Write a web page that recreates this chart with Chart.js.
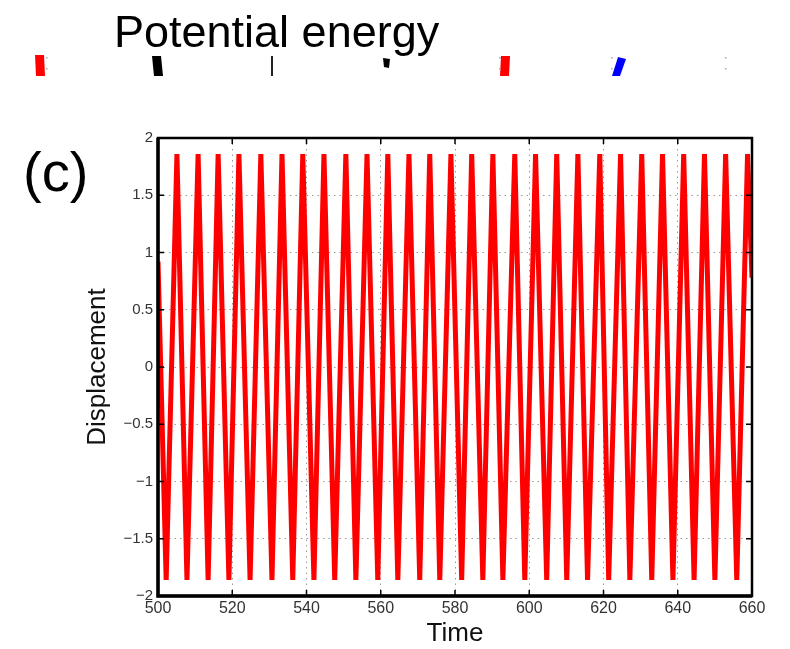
<!DOCTYPE html>
<html>
<head>
<meta charset="utf-8">
<script src="https://cdn.jsdelivr.net/npm/chart.js@4/dist/chart.umd.min.js"></script>
<style>
    body { margin: 0; background: #fff; }
    #wrap { position: relative; width: 790px; height: 649px; }
    #chart { position: absolute; left: 0; top: 0; }
    .label { position: absolute; font-family: "Liberation Sans", Arial, sans-serif; color: #000; white-space: nowrap; line-height: 1; }
    #title { left: 114px; top: 9px; font-size: 45px; }
    #panel { left: 23px; top: 144px; font-size: 56px; }
</style>
</head>
<body>
<div id="wrap">
    <canvas id="chart" width="790" height="649"></canvas>
    <div class="label" id="title">Potential energy</div>
    <div class="label" id="panel">(c)</div>
</div>
<script>
// turning points of the response, t = 500 ... 660
const time = [500, 502.2, 505.1, 507.8, 510.8, 513.5, 516.2, 519.1, 521.8, 524.8, 527.7,
    530.7, 533.4, 536.3, 539.0, 542.0, 544.7, 547.6, 550.6, 553.3, 556.3, 559.2, 561.9,
    564.6, 567.6, 570.5, 573.2, 575.9, 578.9, 581.8, 584.5, 587.5, 590.2, 592.9, 596.1,
    598.8, 601.7, 604.7, 607.4, 610.1, 613.1, 615.7, 619.0, 621.4, 624.6, 627.1, 630.3,
    633.0, 635.9, 638.7, 641.6, 644.4, 647.2, 650.0, 652.9, 655.9, 658.8, 660];

const displacement = [0.92, -1.86, 1.86, -1.86, 1.86, -1.86, 1.86, -1.86, 1.86, -1.86, 1.86,
    -1.86, 1.86, -1.86, 1.86, -1.86, 1.86, -1.86, 1.86, -1.86, 1.86, -1.86, 1.86,
    -1.86, 1.86, -1.86, 1.86, -1.86, 1.86, -1.86, 1.86, -1.86, 1.86, -1.86, 1.86,
    -1.86, 1.86, -1.86, 1.86, -1.86, 1.86, -1.86, 1.86, -1.86, 1.86, -1.86, 1.86,
    -1.86, 1.86, -1.86, 1.86, -1.86, 1.86, -1.86, 1.86, -1.86, 1.86, 0.78];

const timeTicks = [500, 520, 540, 560, 580, 600, 620, 640, 660];
const dispTicks = [-2, -1.5, -1, -0.5, 0, 0.5, 1, 1.5, 2];

const points = time.map((t, i) => ({ x: t, y: displacement[i] }));

// bits of the legend row of the panel above, cut off
const stripAbove = {
    id: 'stripAbove',
    beforeDraw(chart) {
        const c = chart.ctx;
        const quad = (pts, color) => {
            c.beginPath();
            c.moveTo(pts[0][0], pts[0][1]);
            for (let i = 1; i < pts.length; i++) c.lineTo(pts[i][0], pts[i][1]);
            c.closePath();
            c.fillStyle = color;
            c.fill();
        };
        c.save();
        quad([[35, 55], [44, 55], [45, 76], [36, 76]], '#ff0000');
        quad([[152, 56], [161, 56], [163, 76], [154, 76]], '#000');
        quad([[271, 56], [273, 56], [273, 76], [271, 76]], '#222');
        quad([[383, 58], [390, 59], [389, 68], [384, 67]], '#000');
        quad([[501, 56], [510, 56], [509, 76], [500, 76]], '#ff0000');
        quad([[618, 57], [626, 59], [620, 76], [612, 76]], '#0000ff');
        c.fillStyle = '#aaa';
        [[46, 57], [46, 68], [499, 57], [499, 68], [611, 57], [611, 68], [725, 57], [725, 68]]
            .forEach(p => c.fillRect(p[0], p[1], 1.5, 1.5));
        c.restore();
    }
};

// closed axes box with inward tick marks
const axesBox = {
    id: 'axesBox',
    afterDatasetsDraw(chart) {
        const { ctx, chartArea: a, scales } = chart;
        ctx.save();
        ctx.strokeStyle = '#000';
        ctx.lineWidth = 1.5;
        ctx.beginPath();
        timeTicks.forEach(v => {
            const x = scales.x.getPixelForValue(v);
            ctx.moveTo(x, a.bottom); ctx.lineTo(x, a.bottom - 6);
            ctx.moveTo(x, a.top); ctx.lineTo(x, a.top + 6);
        });
        dispTicks.forEach(v => {
            const y = scales.y.getPixelForValue(v);
            ctx.moveTo(a.left, y); ctx.lineTo(a.left + 6, y);
            ctx.moveTo(a.right, y); ctx.lineTo(a.right - 6, y);
        });
        ctx.stroke();
        ctx.lineWidth = 2.5;
        ctx.strokeRect(a.left, a.top, a.right - a.left, a.bottom - a.top);
        ctx.lineWidth = 3.5;
        ctx.beginPath();
        ctx.moveTo(a.left, a.top); ctx.lineTo(a.left, a.bottom); ctx.lineTo(a.right, a.bottom);
        ctx.stroke();
        ctx.restore();
    }
};

const font = { family: '"Liberation Sans", Arial, sans-serif', size: 15 };
const minus = v => String(v).replace('-', '\u2212');

new Chart(document.querySelector('#chart').getContext('2d'), {
    type: 'line',
    data: {
        datasets: [{
            data: points,
            borderColor: '#ff0000',
            borderWidth: 5,
            pointRadius: 0,
            tension: 0,
            fill: false
        }]
    },
    options: {
        responsive: false,
        animation: false,
        layout: { padding: { left: 78, right: 38, top: 138, bottom: 0 } },
        plugins: { legend: { display: false }, tooltip: { enabled: false } },
        scales: {
            x: {
                type: 'linear',
                min: 500,
                max: 660,
                afterBuildTicks: s => { s.ticks = timeTicks.map(v => ({ value: v })); },
                afterFit: s => { s.height = 53; },
                ticks: { color: '#333', font: { ...font, size: 16 }, padding: 3, maxRotation: 0, callback: minus },
                grid: { color: '#999', lineWidth: 1, drawTicks: false },
                border: { display: false, dash: [1.5, 4] },
                title: { display: true, text: 'Time', color: '#111', font: { ...font, size: 26 }, padding: { top: 0, bottom: 0 } }
            },
            y: {
                min: -2,
                max: 2,
                afterBuildTicks: s => { s.ticks = dispTicks.map(v => ({ value: v })); },
                afterFit: s => { s.width = 80; },
                ticks: { color: '#333', font, padding: 5, callback: minus },
                grid: { color: '#999', lineWidth: 1, drawTicks: false },
                border: { display: false, dash: [1.5, 4] },
                title: { display: true, text: 'Displacement', color: '#111', font: { ...font, size: 26 }, padding: { top: 4, bottom: 4 } }
            }
        }
    },
    plugins: [stripAbove, axesBox]
});
</script>
</body>
</html>
